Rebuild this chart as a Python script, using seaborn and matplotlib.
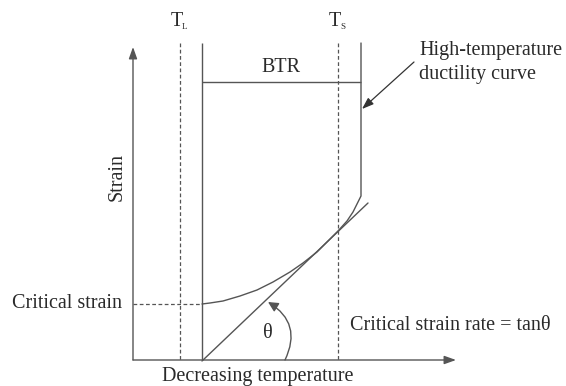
import matplotlib
matplotlib.use("Agg")
import matplotlib.pyplot as plt
import seaborn as sns
import pandas as pd
from matplotlib.patches import FancyArrowPatch

# schematic, in picture units (x right, y down)
origin = (133, 360)
axis_ends = (456, 47)
guide_top = 43
t_liquidus = 180
btr_left = 202
t_solidus = 338
btr_right = 361
btr_level = 82
critical_strain = 304

# high-temperature ductility curve
curve_x = [202, 210, 223, 240, 257, 273, 290, 303, 317, 330, 338, 347, 353, 358, 361, 361]
curve_y = [304, 303, 301, 296, 290, 282, 272, 263, 252, 239, 231, 221, 212, 202, 196, 43]

# tangent line giving the critical strain rate
tangent_x = [202, 368]
tangent_y = [361, 203]

line_col = "#555555"
text_col = "#2a2a2a"

sns.set_style("white")
plt.rcParams["font.family"] = ["Liberation Serif", "DejaVu Serif"]

fig = plt.figure(figsize=(5.66, 3.86), dpi=100)
ax = fig.add_axes([0, 0, 1, 1])
ax.set_xlim(0, 566)
ax.set_ylim(386, 0)
ax.axis("off")

curve = pd.DataFrame({"x": curve_x, "y": curve_y})
sns.lineplot(data=curve, x="x", y="y", sort=False, estimator=None,
             color=line_col, lw=1, ax=ax)
sns.lineplot(x=tangent_x, y=tangent_y, sort=False, estimator=None,
             color=line_col, lw=1, ax=ax)

# axes with arrows
arrow_kw = dict(arrowstyle="-|>,head_length=0.7,head_width=0.25", color=line_col, lw=1,
                shrinkA=0, shrinkB=0)
ax.annotate("", xy=(origin[0], axis_ends[1]), xytext=origin, arrowprops=arrow_kw)
ax.annotate("", xy=(axis_ends[0], origin[1]), xytext=origin, arrowprops=arrow_kw)

# solid bounds of the brittle temperature range
ax.vlines(btr_left, guide_top, origin[1], color=line_col, lw=1)
ax.hlines(btr_level, btr_left, btr_right, color=line_col, lw=1)

# dashed guides
dash = dict(color=line_col, lw=0.9, linestyles=(0, (3, 2)))
ax.vlines([t_liquidus, t_solidus], guide_top, origin[1], **dash)
ax.hlines(critical_strain, origin[0], btr_left, **dash)

# theta arc
arc = FancyArrowPatch((285, 360), (268, 302), connectionstyle="arc3,rad=0.45",
                      arrowstyle="-|>,head_length=6,head_width=3", color=line_col,
                      lw=1, shrinkA=0, shrinkB=0)
ax.add_patch(arc)

# pointer to the ductility curve
ax.annotate("", xy=(362, 109), xytext=(414, 62),
            arrowprops=dict(arrowstyle="-|>,head_length=0.7,head_width=0.25",
                            color="#333333", lw=0.9, shrinkA=0, shrinkB=0))

fs = 14.5
# temperature labels: T with a small subscript
for x, sub in [(t_liquidus, "L"), (t_solidus, "S")]:
    ax.text(x - 3, 21, "T", ha="center", va="center", fontsize=fs, color=text_col)
    ax.text(x + 5, 27, sub, ha="center", va="center", fontsize=6.5, color=text_col)

ax.text((btr_left + btr_right) / 2, 68, "BTR", ha="center", va="center", fontsize=fs, color=text_col)
ax.text(419, 50, "High-temperature", ha="left", va="center", fontsize=fs, color=text_col)
ax.text(419, 74, "ductility curve", ha="left", va="center", fontsize=fs, color=text_col)
ax.text(117, 177, "Strain", rotation=90, ha="center", va="center", fontsize=fs, color=text_col)
ax.text(122, critical_strain, "Critical strain", ha="right", va="center", fontsize=fs, color=text_col)
ax.text(268, 333, "θ", ha="center", va="center", fontsize=fs, color=text_col)
ax.text(350, 325, "Critical strain rate = tanθ", ha="left", va="center", fontsize=fs, color=text_col)
ax.text(258, 377, "Decreasing temperature", ha="center", va="center", fontsize=fs, color=text_col)

fig.savefig("out.png", dpi=100, facecolor="white")
